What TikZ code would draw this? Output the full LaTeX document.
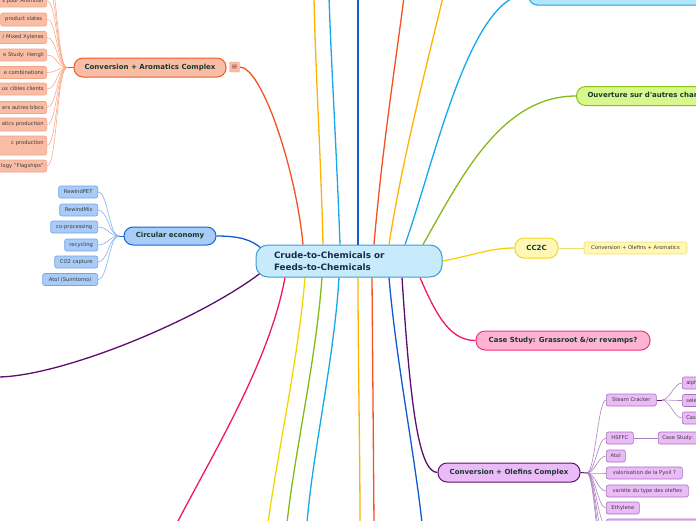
\documentclass[tikz,border=0pt]{standalone}
\usepackage{fontspec}
\setmainfont{DejaVu Sans}
\usetikzlibrary{backgrounds}
\definecolor{cfill}{HTML}{C8EBFB}
\definecolor{cbord}{HTML}{3E9BD6}
\definecolor{ctext}{HTML}{1A2B4C}
\definecolor{btext}{HTML}{15392C}
\definecolor{ltext}{HTML}{3A3A3A}
\definecolor{arofill}{HTML}{F9BCA5}
\definecolor{arobord}{HTML}{F05A24}
\definecolor{aroleafbord}{HTML}{F6A384}
\definecolor{aroline}{HTML}{FAAA8C}
\definecolor{redline}{HTML}{F4511E}
\definecolor{circfill}{HTML}{A9CBF7}
\definecolor{circbord}{HTML}{1565D8}
\definecolor{circleafbord}{HTML}{6FA5EC}
\definecolor{circline}{HTML}{82B2F0}
\definecolor{blueline}{HTML}{0E5BCF}
\definecolor{ylwfill}{HTML}{FFF7B3}
\definecolor{ylwbord}{HTML}{F2D91F}
\definecolor{ylwleafbord}{HTML}{F3E26A}
\definecolor{ylwline}{HTML}{F2D600}
\definecolor{pinkfill}{HTML}{FFB3D2}
\definecolor{pinkbord}{HTML}{F2337D}
\definecolor{pinkline}{HTML}{F0156C}
\definecolor{grnfill}{HTML}{D8F78C}
\definecolor{grnbord}{HTML}{8CC21A}
\definecolor{grnline}{HTML}{86B817}
\definecolor{skyfill}{HTML}{B3E5FA}
\definecolor{skybord}{HTML}{18A6EC}
\definecolor{skyline}{HTML}{15A8EA}
\definecolor{orgline}{HTML}{FFB300}
\definecolor{purfill}{HTML}{EBBBF7}
\definecolor{purbord}{HTML}{5E1370}
\definecolor{purleafbord}{HTML}{A670BC}
\definecolor{purline}{HTML}{5C0E6E}
\definecolor{purleafline}{HTML}{AC82C0}
\definecolor{icontext}{HTML}{8A4A3A}
\begin{document}
\begin{tikzpicture}[x=1pt,y=-1pt,
  hub/.style={draw=cbord, fill=cfill, line width=1pt, rounded corners=12pt, minimum width=186pt, minimum height=32pt, text width=150pt, align=left, inner xsep=18pt, inner ysep=0pt, font=\fontsize{8.8}{11.5}\selectfont\bfseries, text=ctext},
  branch/.style={line width=1pt, rounded corners=9pt, minimum height=19pt, inner sep=0pt, font=\fontsize{7}{8}\selectfont\bfseries, text=btext},
  leaf/.style={line width=0.6pt, rounded corners=2pt, minimum height=12pt, inner sep=0pt, font=\fontsize{5.2}{6}\selectfont, text=ltext},
  aroleaf/.style={leaf, draw=aroleafbord, fill=arofill},
  aroR/.style={aroleaf, text width=74pt, align=right, inner xsep=3pt, anchor=east},
  circleaf/.style={leaf, draw=circleafbord, fill=circfill, anchor=east},
  purleaf/.style={leaf, draw=purleafbord, fill=purfill, anchor=west},
  purR/.style={purleaf, text width=80pt, align=left, inner xsep=4pt},
  mainline/.style={line width=1.3pt},
  leafline/.style={line width=0.6pt},
]
\useasboundingbox (0,0) rectangle (696,520);
\clip (0,0) rectangle (696,520);

% ---------- hub ----------
\node[hub] (hub) at (349,261) {Crude-to-Chemicals or\\Feeds-to-Chemicals};

% ---------- branches ----------
\node[branch, draw=arobord, fill=arofill, minimum width=152pt] (aro) at (150,67.5) {Conversion + Aromatics Complex};
\node[draw=aroleafbord, fill=arofill, rounded corners=1pt, minimum size=10pt, inner sep=0pt, font=\fontsize{8}{8}\selectfont, text=icontext] (menu) at (234.5,67) {≡};
\node[branch, draw=circbord, fill=circfill, minimum width=92pt, minimum height=18pt] (circ) at (170,236) {Circular economy};
\node[branch, draw=ylwbord, fill=ylwfill, minimum width=43pt, minimum height=20pt] (cc2c) at (536.5,248) {CC2C};
\node[branch, draw=pinkbord, fill=pinkfill, minimum width=174pt] (case) at (563,340.5) {Case Study: Grassroot \&/or revamps?};
\node[branch, draw=grnbord, fill=grnfill, anchor=west, text width=160pt, align=left, inner xsep=11pt] (ouv) at (576,96) {Ouverture sur d\textquotesingle autres charges};
\node[branch, draw=skybord, fill=skyfill, anchor=west, minimum width=200pt, minimum height=22pt] (sky) at (528,-6) {};
\node[branch, draw=purbord, fill=purfill, minimum width=142pt] (olef) at (509,472.5) {Conversion + Olefins Complex};

% ---------- CC2C leaf ----------
\node[leaf, draw=ylwleafbord, fill=ylwfill, minimum width=103pt] (ccl) at (635.5,248) {Conversion + Olefins + Aromatics};

% ---------- circular leaves ----------
\node[circleaf, minimum width=39pt] (c1) at (98,192) {RewindPET};
\node[circleaf, minimum width=38pt] (c2) at (98,210) {RewindMix};
\node[circleaf, minimum width=47pt] (c3) at (98,227) {co-processing};
\node[circleaf, minimum width=33pt] (c4) at (98,245) {recycling};
\node[circleaf, minimum width=43pt] (c5) at (98,262) {CO2 capture};
\node[circleaf, minimum width=55pt] (c6) at (98,279.5) {Atol (Sumitomo)};

% ---------- aromatics leaves ----------
\node[aroR] (a1) at (47,1) {s pour Aromizer};
\node[aroleaf, anchor=east, minimum width=46pt, minimum height=13pt] (a2) at (47,19.5) {product slates};
\node[aroR] (a3) at (47,37.5) {/ Mixed Xylenes};
\node[aroR] (a4) at (47,55) {e Study: Hengli};
\node[aroR] (a5) at (47,72.5) {e combinations};
\node[aroR] (a6) at (47,89) {ux cibles clients};
\node[aroR] (a7) at (47,107.5) {ers autres blocs};
\node[aroR, minimum height=13pt] (a8) at (47,124.5) {atics production};
\node[aroR, minimum height=19pt] (a9) at (47,145.5) {c production\\\mbox{}};
\node[aroR] (a10) at (47,166) {logy "Flagships"};

% ---------- olefins leaves ----------
\node[purleaf, minimum width=50pt] (o1) at (606,400) {Steam Cracker};
\node[purleaf, minimum width=27pt] (o2) at (606,438) {HSFFC};
\node[purleaf, minimum width=19pt] (o3) at (606,456) {Atol};
\node[purleaf, minimum width=76pt] (o4) at (606,473) {valorisation de la Pyoil ?};
\node[purleaf, minimum width=82pt] (o5) at (606,491) {variéte du type des olefies};
\node[purleaf, minimum width=33pt] (o6) at (606,508) {Ethylene};
\node[purleaf, minimum width=100pt] (o7) at (606,525) {};
\node[purR] (s1) at (682,383) {alph};
\node[purR] (s2) at (682,400.5) {sele};
\node[purR] (s3) at (682,418) {Cas};
\node[purR] (h1) at (658,438) {Case Study:};

% ---------- coordinates ----------
\coordinate (tOr1) at (314,-3);
\coordinate (tLb1) at (329,-3);
\coordinate (tBl) at (358,-3);
\coordinate (tRd) at (404,-3);
\coordinate (tOr2) at (443,-3);
\coordinate (bPk) at (177,523);
\coordinate (bYe) at (268,523);
\coordinate (bGr) at (287,523);
\coordinate (bLb) at (307,523);
\coordinate (bOr) at (360,523);
\coordinate (bRd) at (374,523);
\coordinate (bBl) at (422,523);
\coordinate (lPu) at (-3,377);
\coordinate (afan) at (67,67.5);
\coordinate (ax1) at (47,-14);
\coordinate (ax2) at (47,-30);
\coordinate (cfan) at (119,236);
\coordinate (ofan) at (587,473);
\coordinate (ox1) at (606,542);
\coordinate (ox2) at (606,560);
\coordinate (ox3) at (606,578);
\coordinate (sfan) at (662,400);

\begin{pgfonlayer}{background}
% main connectors, top
\draw[mainline, redline] (menu.east) .. controls (262,67) and (296,170) .. ([xshift=-46pt]hub.north);
\draw[mainline, orgline] ([xshift=-26pt]hub.north) .. controls (321,160) and (315,60) .. (tOr1);
\draw[mainline, skyline] ([xshift=-9pt]hub.north) .. controls (337,160) and (331,60) .. (tLb1);
\draw[mainline, blueline] ([xshift=9pt]hub.north) -- (tBl);
\draw[mainline, redline] ([xshift=25pt]hub.north) .. controls (382,150) and (396,60) .. (tRd);
\draw[mainline, orgline] ([xshift=40pt]hub.north) .. controls (402,160) and (428,60) .. (tOr2);
\draw[mainline, skyline] ([xshift=56pt]hub.north) .. controls (435,160) and (470,-6) .. (sky.west);
\draw[mainline, grnline] ([xshift=74pt]hub.north) .. controls (460,180) and (500,96) .. (ouv.west);
% sides
\draw[mainline, blueline] (circ.east) .. controls (240,236) and (252,240) .. ([xshift=6pt,yshift=-4pt]hub.north west);
\draw[mainline, ylwline] (hub.east) .. controls (475,255) and (490,248) .. (cc2c.west);
\draw[mainline, purline] ([xshift=7pt,yshift=6pt]hub.south west) .. controls (200,320) and (60,377) .. (lPu);
% bottom
\draw[mainline, pinkline] ([xshift=-64pt]hub.south) .. controls (270,360) and (215,450) .. (bPk);
\draw[mainline, ylwline] ([xshift=-44pt]hub.south) .. controls (298,360) and (278,450) .. (bYe);
\draw[mainline, grnline] ([xshift=-27pt]hub.south) .. controls (316,360) and (295,450) .. (bGr);
\draw[mainline, skyline] ([xshift=-10pt]hub.south) .. controls (334,360) and (313,450) .. (bLb);
\draw[mainline, orgline] ([xshift=9pt]hub.south) .. controls (358,360) and (360,450) .. (bOr);
\draw[mainline, redline] ([xshift=23pt]hub.south) -- (bRd);
\draw[mainline, blueline] ([xshift=40pt]hub.south) .. controls (396,360) and (414,450) .. (bBl);
\draw[mainline, purline] ([xshift=53pt]hub.south) .. controls (410,400) and (418,472.5) .. (olef.west);
\draw[mainline, pinkline] ([xshift=71pt]hub.south) .. controls (438,320) and (452,340.5) .. (case.west);
% CC2C leaf
\draw[leafline, ylwleafbord] (cc2c.east) -- (ccl.west);
% aromatics leaves
\draw[line width=1pt, arobord] (aro.west) -- (afan);
\foreach \n in {a1,a2,a3,a4,a5,a6,a7,a8,a9,a10}
  \draw[leafline, aroline] (afan) .. controls +(-10,0) and +(10,0) .. (\n.east);
\foreach \n in {ax1,ax2}
  \draw[leafline, aroline] (afan) .. controls +(-10,0) and +(10,0) .. (\n);
% circular leaves
\draw[line width=1pt, circbord] (circ.west) -- (cfan);
\foreach \n in {c1,c2,c3,c4,c5,c6}
  \draw[leafline, circline] (cfan) .. controls +(-10,0) and +(10,0) .. (\n.east);
% olefins leaves
\draw[line width=1pt, purbord] (olef.east) -- (ofan);
\foreach \n in {o1,o2,o3,o4,o5,o6,o7}
  \draw[leafline, purleafline] (ofan) .. controls +(8,0) and +(-8,0) .. (\n.west);
\foreach \n in {ox1,ox2,ox3}
  \draw[leafline, purleafline] (ofan) .. controls +(8,0) and +(-8,0) .. (\n);
\draw[leafline, purbord] (o1.east) -- (sfan);
\foreach \n in {s1,s2,s3}
  \draw[leafline, purleafline] (sfan) .. controls +(8,0) and +(-8,0) .. (\n.west);
\draw[leafline, purleafline] (o2.east) -- (h1.west);
\end{pgfonlayer}
\end{tikzpicture}
\end{document}
